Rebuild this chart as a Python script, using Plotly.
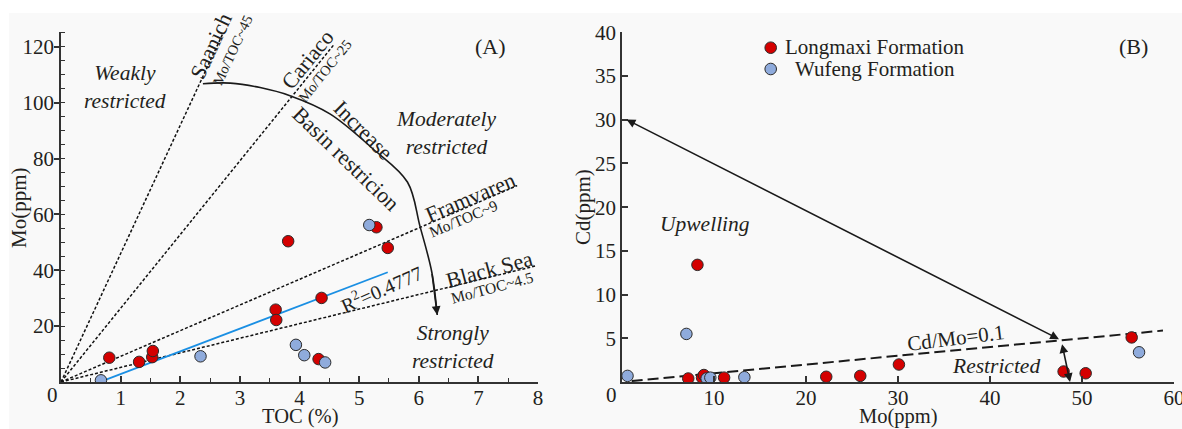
import plotly.graph_objects as go

# ---------------- data ----------------
# Longmaxi Formation samples (red)
toc_L = [0.81, 1.31, 1.53, 1.54, 3.60, 3.61, 3.81, 5.29, 5.48, 4.37, 4.32]
mo_L = [8.7, 7.2, 8.9, 11.1, 25.9, 22.2, 50.4, 55.4, 48.0, 30.1, 8.2]
cd_L = [0.5, 0.4, 0.8, 0.5, 0.7, 0.6, 1.0, 5.1, 1.2, 2.0, 13.4]
# Wufeng Formation samples (blue)
toc_W = [0.67, 2.34, 5.17, 3.94, 4.08, 4.43]
mo_W = [0.6, 9.2, 56.2, 13.3, 9.6, 7.0]
cd_W = [0.7, 0.4, 3.4, 0.55, 0.5, 5.5]

# Reference basin lines (Mo/TOC) in panel A
ref_names = ["Saanich", "Cariaco", "Framvaren", "Black Sea"]
ref_ratio_text = ["45", "25", "9", "4.5"]
ref_end_toc = [2.72, 4.57, 7.65, 7.95]
ref_end_mo = [125.0, 120.6, 70.3, 41.5]

# Regression line (R2 = 0.4777)
trend_toc = [0.70, 5.48]
trend_mo = [0.4, 39.3]

# "Basin restriction increase" arc
arc_toc = [2.38, 2.84, 3.34, 3.84, 4.51, 5.23, 5.81, 6.02, 6.22, 6.31]
arc_mo = [106.8, 107.0, 105.4, 102.5, 96.0, 83.5, 71.6, 55.8, 39.2, 24.0]

# Panel B lines
cdmo_line_mo = [1.05, 58.8]
cdmo_ratio = 0.1
long_arrow = dict(x0=0.33, y0=30.1, x1=47.5, y1=4.9)
short_arrow = dict(x0=47.8, y0=4.5, x1=48.7, y1=0.0)

# ---------------- style ----------------
FONT = "Liberation Serif"
TXT = "#231f20"
AX = "#333333"
RED = "#d40000"
BLUE = "#8fabdc"
EDGE = "#2b2b2b"
W, H = 1182, 429


def px(x):
    return x / W


def py(y):
    return 1 - y / H


fig = go.Figure()

# ---- Panel A ----
for i, name in enumerate(ref_names):
    fig.add_trace(go.Scatter(
        x=[0, ref_end_toc[i]], y=[0, ref_end_mo[i]], mode="lines",
        line=dict(color="#111111", width=1.5, dash="3px,2px"),
        xaxis="x", yaxis="y", showlegend=False, hoverinfo="skip"))

fig.add_trace(go.Scatter(
    x=trend_toc, y=trend_mo, mode="lines",
    line=dict(color="#1a8fe3", width=1.8),
    xaxis="x", yaxis="y", showlegend=False))

fig.add_trace(go.Scatter(
    x=arc_toc, y=arc_mo, mode="lines",
    line=dict(color="#1a1a1a", width=1.6, shape="spline", smoothing=1.0),
    xaxis="x", yaxis="y", showlegend=False, hoverinfo="skip"))

fig.add_trace(go.Scatter(
    x=toc_L, y=mo_L, mode="markers", name="Longmaxi Formation",
    marker=dict(color=RED, size=11.5, line=dict(color=EDGE, width=1)),
    xaxis="x", yaxis="y", showlegend=False))
fig.add_trace(go.Scatter(
    x=toc_W, y=mo_W, mode="markers", name="Wufeng Formation",
    marker=dict(color=BLUE, size=11.5, line=dict(color=EDGE, width=1)),
    xaxis="x", yaxis="y", showlegend=False))

# ---- Panel B ----
fig.add_trace(go.Scatter(
    x=cdmo_line_mo, y=[v * cdmo_ratio for v in cdmo_line_mo], mode="lines",
    line=dict(color="#1a1a1a", width=2, dash="11px,5px"),
    xaxis="x2", yaxis="y2", showlegend=False, hoverinfo="skip"))
fig.add_trace(go.Scatter(
    x=mo_L, y=cd_L, mode="markers", name="Longmaxi Formation",
    marker=dict(color=RED, size=11.5, line=dict(color=EDGE, width=1)),
    xaxis="x2", yaxis="y2", showlegend=False))
fig.add_trace(go.Scatter(
    x=mo_W, y=cd_W, mode="markers", name="Wufeng Formation",
    marker=dict(color=BLUE, size=11.5, line=dict(color=EDGE, width=1)),
    xaxis="x2", yaxis="y2", showlegend=False))

ann = []


def txt(x, y, t, size=21, angle=0, italic=False, xref="x", yref="y", xanchor="center", align="center"):
    ann.append(dict(x=x, y=y, xref=xref, yref=yref, text=t, showarrow=False,
                    textangle=angle, xanchor=xanchor, yanchor="middle", align=align,
                    font=dict(family=FONT, size=size, color=TXT,
                              style="italic" if italic else "normal")))


# Panel A labels
txt(2.52, 120.4, "Saanich", 22, -65)
txt(2.88, 118.8, "Mo/TOC~45", 14.5, -65)
txt(4.13, 115.6, "Cariaco", 22, -51)
txt(4.42, 111.5, "Mo/TOC~25", 14.5, -51)
txt(6.86, 65.9, "Framvaren", 22, -23)
txt(6.75, 58.4, "Mo/TOC~9", 15.5, -23)
txt(7.18, 40.3, "Black Sea", 22, -15)
txt(7.23, 33.7, "Mo/TOC~4.5", 15.5, -15)
txt(5.08, 90.2, "Increase", 22, 45)
txt(4.78, 80.1, "Basin restricion", 22, 44)
txt(5.38, 33.5, "R<sup>2</sup>=0.4777", 20, -24)
txt(1.07, 105.5, "Weakly<br>restricted", 21.5, 0, True)
txt(6.47, 89.1, "Moderately<br>restricted", 21.5, 0, True)
txt(6.58, 12.6, "Strongly<br>restricted", 21.5, 0, True)
txt(7.21, 120.0, "(A)", 22)

# Panel B labels
txt(9.02, 18.1, "Upwelling", 21.5, 0, True, "x2", "y2")
txt(40.7, 1.87, "Restricted", 21.5, 0, True, "x2", "y2")
txt(36.3, 5.0, "Cd/Mo=0.1", 21, -7, False, "x2", "y2")
txt(55.65, 38.4, "(B)", 22, 0, False, "x2", "y2")

# Axis titles & zero labels
txt(px(300), py(416), "TOC (%)", 20.5, 0, False, "paper", "paper")
txt(px(19), py(207), "Mo(ppm)", 21, -90, False, "paper", "paper")
txt(px(898), py(416), "Mo(ppm)", 20.5, 0, False, "paper", "paper")
txt(px(583), py(207), "Cd(ppm)", 21, -90, False, "paper", "paper")
txt(px(52), py(395), "0", 21, 0, False, "paper", "paper")
txt(px(611), py(395), "0", 21, 0, False, "paper", "paper")

# Manual legend
txt(px(783), py(47), "Longmaxi Formation", 21, 0, False, "paper", "paper", "left", "left")
txt(px(793), py(69), "Wufeng Formation", 21, 0, False, "paper", "paper", "left", "left")

# Arrows
ann.append(dict(x=arc_toc[-1], y=arc_mo[-1], ax=arc_toc[-2], ay=arc_mo[-2],
                xref="x", yref="y", axref="x", ayref="y", text="", showarrow=True,
                arrowhead=2, arrowsize=1.1, arrowwidth=1.6, arrowcolor="#1a1a1a"))
for a in (long_arrow, short_arrow):
    ann.append(dict(x=a["x1"], y=a["y1"], ax=a["x0"], ay=a["y0"],
                    xref="x2", yref="y2", axref="x2", ayref="y2", text="", showarrow=True,
                    arrowhead=2, arrowside="end+start", arrowsize=1.1, arrowwidth=1.6,
                    arrowcolor="#1a1a1a"))

shapes = [
    dict(type="rect", xref="paper", yref="paper", x0=px(9), x1=1, y0=0, y1=py(13),
         fillcolor="#f9f9f9", line=dict(width=0), layer="below"),
    dict(type="circle", xref="paper", yref="paper", xsizemode="pixel", ysizemode="pixel",
         xanchor=px(770.7), yanchor=py(47.7), x0=-5.8, x1=5.8, y0=-5.8, y1=5.8,
         fillcolor=RED, line=dict(color=EDGE, width=1)),
    dict(type="circle", xref="paper", yref="paper", xsizemode="pixel", ysizemode="pixel",
         xanchor=px(770.7), yanchor=py(69), x0=-5.8, x1=5.8, y0=-5.8, y1=5.8,
         fillcolor=BLUE, line=dict(color=EDGE, width=1)),
]

tickfont = dict(family=FONT, size=21, color=TXT)
common = dict(showline=True, linecolor=AX, linewidth=1.8, showgrid=False, zeroline=False,
              tickfont=tickfont, tickcolor=AX, tickwidth=1.5, mirror=False, fixedrange=True,
              automargin=False, ticklabeloverflow="allow")

fig.update_layout(
    template="none",
    width=W, height=H, autosize=False,
    margin=dict(l=0, r=0, t=0, b=0, pad=0),
    paper_bgcolor="white", plot_bgcolor="rgba(0,0,0,0)",
    showlegend=False,
    font=dict(family=FONT, color=TXT),
    xaxis=dict(domain=[px(61), px(538)], range=[0, 8], anchor="y",
               tickvals=[0, 1, 2, 3, 4, 5, 6, 7, 8],
               ticktext=["", "1", "2", "3", "4", "5", "6", "7", "8"],
               ticks="inside", ticklen=6, ticklabelstandoff=-4,
               minor=dict(dtick=0.5, ticks="inside", ticklen=4, tickcolor=AX, tickwidth=1.2),
               **common),
    yaxis=dict(domain=[py(382), py(32)], range=[0, 125.3], anchor="x",
               tickvals=[20, 40, 60, 80, 100, 120],
               ticks="outside", ticklen=5, ticklabelstandoff=-4,
               minor=dict(dtick=5, ticks="inside", ticklen=4, tickcolor=AX, tickwidth=1.2),
               **common),
    xaxis2=dict(domain=[px(622), px(1174)], range=[0, 60], anchor="y2",
                tickvals=[0, 10, 20, 30, 40, 50, 60],
                ticktext=["", "10", "20", "30", "40", "50", "60"],
                ticks="inside", ticklen=6, ticklabelstandoff=-4, **common),
    yaxis2=dict(domain=[py(382), py(32.3)], range=[0, 40], anchor="x2",
                tickvals=[5, 10, 15, 20, 25, 30, 35, 40],
                ticks="inside", ticklen=6, **common),
    annotations=ann,
    shapes=shapes,
)

fig.write_html("out.html", config={"displayModeBar": False},
               post_script="document.body.style.margin='0';document.body.style.overflow='hidden';")
